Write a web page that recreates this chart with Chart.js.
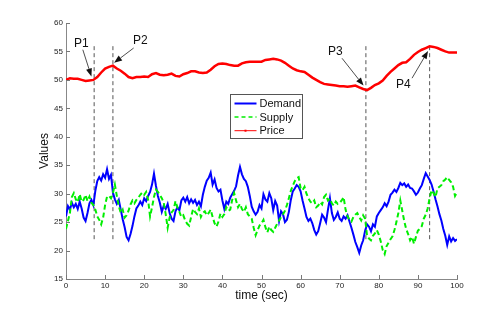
<!DOCTYPE html>
<html>
<head>
<meta charset="utf-8">
<script src="https://cdn.jsdelivr.net/npm/chart.js@4/dist/chart.umd.min.js"></script>
<style>
  html, body { margin: 0; padding: 0; background: #fff; }
</style>
</head>
<body>
<canvas id="market-chart" width="504" height="314"></canvas>
<script>
// demand & supply sampled every 0.5 s, price every 1 s
const noiseStep = 0.5;
const demand = [
  26.0,27.8,27.2,28.4,27.6,28.2,27.3,28.6,27.4,25.8,25.2,26.6,28.3,28.9,28.0,30.5,32.2,32.9,32.3,33.4,
  32.8,34.3,32.6,33.3,30.2,29.0,28.2,28.9,27.2,25.5,24.1,22.4,21.8,22.9,24.3,26.0,27.4,27.9,28.6,28.0,
  29.2,28.7,29.6,30.3,31.6,33.5,31.4,29.6,28.4,26.8,27.9,27.3,28.2,26.6,25.6,25.2,26.9,27.6,27.1,28.8,
  29.3,28.6,29.4,28.3,29.0,28.4,28.9,28.0,28.6,27.8,29.8,31.2,32.3,32.8,33.7,31.6,32.5,31.0,30.4,30.7,
  28.8,27.3,28.6,28.2,29.3,29.9,30.5,31.3,33.2,34.7,33.4,32.6,32.2,31.2,29.6,27.7,26.9,26.3,26.8,28.0,
  27.4,29.9,29.0,28.6,30.1,29.2,27.1,28.7,27.9,25.2,26.9,26.4,25.0,25.4,26.8,28.9,30.4,30.9,31.5,31.2,
  30.4,28.8,27.4,25.9,25.2,25.6,24.8,23.6,22.8,23.4,24.8,26.3,25.8,25.0,27.2,29.2,26.6,25.4,25.9,26.7,
  25.6,25.2,26.0,25.6,26.2,25.1,24.0,22.8,21.5,20.6,19.6,20.9,21.8,23.5,24.6,24.2,23.4,24.6,24.2,26.0,
  26.6,27.1,27.6,28.3,27.8,28.6,29.8,30.2,30.7,30.3,31.0,31.9,31.5,31.8,31.2,31.6,31.0,30.9,30.4,29.8,
  30.2,30.9,31.5,32.6,33.6,33.0,32.4,31.6,30.4,29.0,27.8,26.4,25.3,23.8,22.6,21.0,22.5,21.6,22.2,21.7,
  22.0
];
const supply = [
  23.8,25.2,26.6,29.4,30.1,29.0,28.5,29.9,28.6,28.9,29.8,28.7,29.5,28.4,28.0,27.2,26.0,25.4,24.6,25.8,
  28.0,29.5,29.6,29.2,30.1,31.6,29.6,27.8,26.6,27.2,25.8,26.2,27.0,28.1,28.8,28.3,28.9,29.3,29.8,30.2,
  29.8,30.3,28.9,26.0,27.6,29.4,30.7,30.3,29.8,29.2,28.4,26.4,24.0,25.8,26.7,27.1,28.7,27.6,26.8,25.9,
  26.2,25.3,24.7,24.4,25.9,27.3,26.8,26.4,27.4,25.9,26.6,26.9,26.2,26.6,27.2,25.9,24.8,24.2,25.1,26.5,
  25.9,26.4,27.6,27.0,27.2,28.9,30.1,28.8,27.6,28.2,27.3,26.8,27.6,26.4,26.0,25.6,24.0,22.7,23.6,24.4,
  24.8,25.4,24.1,23.2,24.2,23.6,23.3,24.0,24.7,25.3,25.9,26.4,27.0,28.0,29.2,30.5,31.4,32.2,32.7,32.9,
  31.0,30.6,31.2,30.0,29.2,28.6,28.3,28.8,27.6,27.9,28.5,28.1,29.4,29.8,28.8,29.1,28.3,27.9,28.6,28.2,
  28.4,28.8,29.4,27.2,26.0,25.4,25.1,25.9,26.3,26.6,25.9,25.3,26.2,25.6,22.6,22.1,21.8,22.6,23.0,23.6,
  22.8,21.6,20.1,19.4,20.8,21.4,22.0,22.5,23.6,25.0,26.6,28.8,27.0,25.2,23.8,22.9,21.8,22.4,21.2,22.4,
  23.5,23.8,24.3,25.6,26.3,27.4,29.2,30.6,30.1,29.4,30.9,31.2,31.5,32.2,32.5,32.9,32.4,32.0,31.2,29.6,
  30.2
];
const priceStep = 1;
const price = [
  50.0,50.3,50.2,50.2,50.0,49.8,49.9,50.0,50.5,51.3,52.0,52.3,52.5,52.0,51.6,51.1,50.5,50.3,50.5,50.5,
  50.6,50.5,51.0,51.2,50.9,50.8,50.9,51.1,50.7,50.6,51.0,51.2,51.5,51.5,51.3,51.2,51.3,51.8,52.4,52.8,
  52.9,52.8,52.6,52.5,52.5,52.9,53.1,53.2,53.2,53.2,53.2,53.5,53.6,53.7,53.6,53.4,53.0,52.5,52.0,51.7,
  51.5,51.4,50.9,50.4,50.0,49.6,49.3,49.2,49.1,49.0,48.9,48.9,48.8,48.9,49.0,48.7,48.4,48.2,48.6,49.1,
  49.4,49.9,50.7,51.4,52.0,52.6,53.0,53.1,53.7,54.4,54.9,55.3,55.6,55.9,55.8,55.6,55.3,55.0,54.8,54.8,
  54.8
];

// marked events
const eventNames = ['P1', 'P2', 'P3', 'P4'];
const eventTimes = [7.2, 12.0, 76.7, 93.0];
const eventLow = 22;
const eventHigh = 56;
const labelAt = [[3.9, 56.4], [19.0, 56.9], [68.9, 54.9], [86.3, 49.1]];
const arrowFrom = [[4.3, 55.3], [17.3, 55.6], [70.6, 53.8], [88.5, 50.3]];
const arrowTo = [[6.5, 50.6], [12.3, 53.0], [76.1, 49.0], [92.6, 55.1]];

const seriesNames = ['Demand', 'Supply', 'Price'];

const FONT = '"Liberation Sans", Arial, Helvetica, sans-serif';
Chart.defaults.font.family = FONT;

function toPoints(values, step) {
  return values.map((v, i) => ({ x: i * step, y: v }));
}

function drawArrow(ctx, x0, y0, x1, y1) {
  let ang = Math.atan2(y1 - y0, x1 - x0);
  let len = 8, half = 3;
  let bx = x1 - len * Math.cos(ang), by = y1 - len * Math.sin(ang);
  ctx.beginPath();
  ctx.moveTo(x0, y0);
  ctx.lineTo(bx, by);
  ctx.stroke();
  ctx.beginPath();
  ctx.moveTo(x1, y1);
  ctx.lineTo(bx + half * Math.sin(ang), by - half * Math.cos(ang));
  ctx.lineTo(bx - half * Math.sin(ang), by + half * Math.cos(ang));
  ctx.closePath();
  ctx.fill();
}

const overlay = {
  id: 'overlay',
  afterDraw(chart) {
    const { ctx, scales: { x, y } } = chart;
    ctx.save();

    // inward tick marks
    ctx.strokeStyle = '#777';
    ctx.lineWidth = 1;
    x.ticks.forEach(t => {
      let px = Math.round(x.getPixelForValue(t.value)) + 0.5;
      ctx.beginPath(); ctx.moveTo(px, y.bottom); ctx.lineTo(px, y.bottom - 4); ctx.stroke();
    });
    y.ticks.forEach(t => {
      let py = Math.round(y.getPixelForValue(t.value)) + 0.5;
      ctx.beginPath(); ctx.moveTo(x.left, py); ctx.lineTo(x.left + 4, py); ctx.stroke();
    });

    // arrows and event labels
    ctx.strokeStyle = '#222';
    ctx.fillStyle = '#111';
    ctx.lineWidth = 0.8;
    ctx.font = '12px ' + FONT;
    ctx.textAlign = 'center';
    ctx.textBaseline = 'middle';
    eventNames.forEach((name, i) => {
      drawArrow(ctx,
        x.getPixelForValue(arrowFrom[i][0]), y.getPixelForValue(arrowFrom[i][1]),
        x.getPixelForValue(arrowTo[i][0]), y.getPixelForValue(arrowTo[i][1]));
      ctx.fillText(name, x.getPixelForValue(labelAt[i][0]), y.getPixelForValue(labelAt[i][1]));
    });

    // legend box
    let bx = 230.5, by = 94.5, bw = 72, bh = 44;
    ctx.fillStyle = '#fff';
    ctx.fillRect(bx, by, bw, bh);
    ctx.strokeStyle = '#555';
    ctx.lineWidth = 1;
    ctx.strokeRect(bx, by, bw, bh);
    ctx.font = '11px ' + FONT;
    ctx.textAlign = 'left';
    ctx.fillStyle = '#111';
    const styles = [
      { c: '#0000ff', w: 2, d: [] },
      { c: '#00ee00', w: 1.5, d: [4, 3] },
      { c: '#ff0000', w: 1, d: [] }
    ];
    seriesNames.forEach((name, i) => {
      let ly = by + 9 + i * 13.6;
      ctx.strokeStyle = styles[i].c;
      ctx.lineWidth = styles[i].w;
      ctx.setLineDash(styles[i].d);
      ctx.beginPath(); ctx.moveTo(bx + 4, ly); ctx.lineTo(bx + 26, ly); ctx.stroke();
      ctx.setLineDash([]);
      if (i === 2) {
        ctx.fillStyle = '#ff0000';
        ctx.fillRect(bx + 14, ly - 1, 2, 2);
      }
      ctx.fillStyle = '#111';
      ctx.fillText(name, bx + 29, ly + 0.5);
    });

    // axis titles
    ctx.font = '12px ' + FONT;
    ctx.textAlign = 'center';
    ctx.fillText('time (sec)', (x.left + x.right) / 2, 296);
    ctx.translate(45, (y.top + y.bottom) / 2);
    ctx.rotate(-Math.PI / 2);
    ctx.fillText('Values', 0, 0);
    ctx.restore();
  }
};

const eventSets = eventTimes.map(t => ({
  data: [{ x: t, y: eventLow }, { x: t, y: eventHigh }],
  borderColor: '#555',
  borderWidth: 1,
  borderDash: [4, 3],
  order: 5
}));

let ctx = document.getElementById('market-chart').getContext('2d');
new Chart(ctx, {
  type: 'line',
  data: {
    datasets: [
      {
        label: 'Price',
        data: toPoints(price, priceStep),
        borderColor: '#ff0000',
        borderWidth: 2.5,
        order: 0
      },
      {
        label: 'Supply',
        data: toPoints(supply, noiseStep),
        borderColor: '#00ee00',
        borderWidth: 2,
        borderDash: [5, 3],
        order: 1
      },
      {
        label: 'Demand',
        data: toPoints(demand, noiseStep),
        borderColor: '#0000ff',
        borderWidth: 2,
        order: 2
      },
      ...eventSets
    ]
  },
  options: {
    responsive: false,
    animation: false,
    layout: { padding: { top: 23, right: 47, left: 0, bottom: 0 } },
    elements: { point: { radius: 0 }, line: { tension: 0 } },
    plugins: { legend: { display: false }, tooltip: { enabled: false } },
    scales: {
      x: {
        type: 'linear',
        min: 0,
        max: 100,
        afterFit: s => { s.height = 35; },
        ticks: { stepSize: 10, padding: 2, maxRotation: 0, color: '#222', font: { size: 8 } },
        grid: { display: false, drawTicks: false },
        border: { color: '#888', width: 1 }
      },
      y: {
        min: 15,
        max: 60,
        afterFit: s => { s.width = 66; },
        ticks: { stepSize: 5, padding: 3, color: '#222', font: { size: 8 } },
        grid: { display: false, drawTicks: false },
        border: { color: '#888', width: 1 }
      }
    }
  },
  plugins: [overlay]
});
</script>
</body>
</html>
